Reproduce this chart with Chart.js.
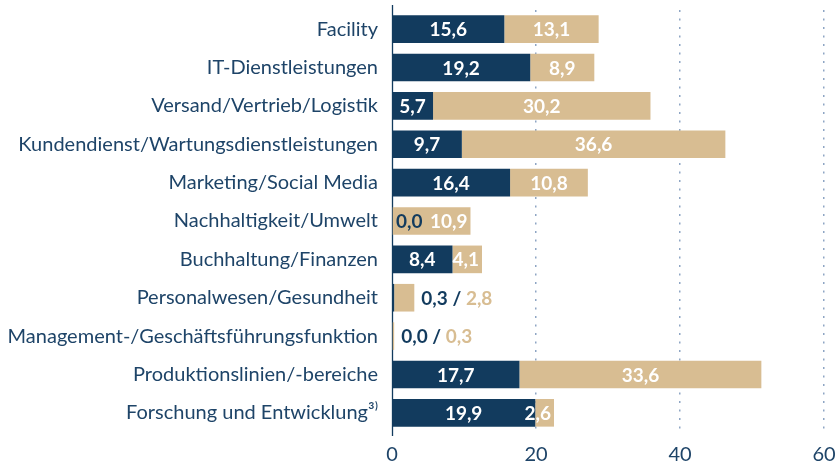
<!DOCTYPE html>
<html><head><meta charset="utf-8">
<script src="https://cdn.jsdelivr.net/npm/chart.js@4/dist/chart.umd.min.js"></script>
<style>html,body{margin:0;padding:0;background:#fff}#wrap{width:837px;height:461px;position:relative}</style>
</head><body><div id="wrap"><canvas id="c"></canvas></div>
<script>
const categories = [
  'Facility',
  'IT-Dienstleistungen',
  'Versand/Vertrieb/Logistik',
  'Kundendienst/Wartungsdienstleistungen',
  'Marketing/Social Media',
  'Nachhaltigkeit/Umwelt',
  'Buchhaltung/Finanzen',
  'Personalwesen/Gesundheit',
  'Management-/Geschäftsführungsfunktion',
  'Produktionslinien/-bereiche',
  'Forschung und Entwicklung³⁾'
];
const seriesNavy = [15.6, 19.2, 5.7, 9.7, 16.4, 0.0, 8.4, 0.3, 0.0, 17.7, 19.9];
const seriesTan  = [13.1, 8.9, 30.2, 36.6, 10.8, 10.9, 4.1, 2.8, 0.3, 33.6, 2.6];
const xTicks = [0, 20, 40, 60];

const NAVY = '#123b5e';
const TAN = '#d8bd92';
const TEXT = '#1e4468';
const FONT = 'Lato';

const fmt = v => v.toFixed(1).replace('.', ',');

const axisLinePlugin = {
  id: 'axisLine',
  beforeDatasetsDraw(chart) {
    const ctx = chart.ctx;
    const x = Math.round(chart.scales.x.getPixelForValue(0)) + 0.5;
    const a = chart.chartArea;
    ctx.save();
    ctx.strokeStyle = NAVY;
    ctx.lineWidth = 1.3;
    ctx.beginPath();
    ctx.moveTo(x, a.top - 5);
    ctx.lineTo(x, a.bottom + 4);
    ctx.stroke();
    ctx.restore();
  }
};

const labelPlugin = {
  id: 'segLabels',
  afterDatasetsDraw(chart) {
    const ctx = chart.ctx;
    const m0 = chart.getDatasetMeta(0), m1 = chart.getDatasetMeta(1);
    const x0 = chart.scales.x.getPixelForValue(0);
    ctx.save();
    ctx.font = 'bold 19px ' + FONT;
    ctx.textBaseline = 'middle';
    ctx.textAlign = 'left';
    categories.forEach((c, i) => {
      const b0 = m0.data[i], b1 = m1.data[i];
      const y = b0.y + 1;
      const t0 = fmt(seriesNavy[i]), t1 = fmt(seriesTan[i]);
      const w0 = ctx.measureText(t0).width, w1 = ctx.measureText(t1).width;
      const navyFits = (b0.x - x0) >= w0 + 6;
      const tanFits = (b1.x - b1.base) >= w1 + 6;
      if (!navyFits && !tanFits) {
        let x = b1.x + 7;
        const sep = ' / ';
        ctx.fillStyle = NAVY; ctx.fillText(t0, x, y); x += w0;
        ctx.fillText(sep, x, y); x += ctx.measureText(sep).width;
        ctx.fillStyle = TAN; ctx.fillText(t1, x, y);
        return;
      }
      let end0;
      if (seriesNavy[i] === 0) {
        ctx.fillStyle = NAVY;
        ctx.fillText(t0, x0 + 4, y);
        end0 = x0 + 4 + w0;
      } else {
        const cx = (x0 + b0.x) / 2;
        ctx.fillStyle = '#ffffff';
        ctx.fillText(t0, cx - w0 / 2, y);
        end0 = cx + w0 / 2;
      }
      let c1 = (b1.base + b1.x) / 2;
      const minC = end0 + 8 + w1 / 2, maxC = b1.x - 3 - w1 / 2;
      if (c1 < minC) c1 = minC;
      if (c1 > maxC) c1 = maxC;
      ctx.fillStyle = '#ffffff';
      ctx.fillText(t1, c1 - w1 / 2, y);
    });
    ctx.restore();
  }
};

new Chart(document.getElementById('c'), {
  type: 'bar',
  data: {
    labels: categories,
    datasets: [
      { label: 'Reihe 1', data: seriesNavy, backgroundColor: NAVY, borderWidth: 0 },
      { label: 'Reihe 2', data: seriesTan, backgroundColor: TAN, borderWidth: 0 }
    ]
  },
  options: {
    indexAxis: 'y',
    responsive: true,
    maintainAspectRatio: false,
    animation: false,
    barPercentage: 0.8,
    categoryPercentage: 0.9,
    layout: { padding: { top: 10, right: 13, left: 0, bottom: 0 } },
    plugins: { legend: { display: false }, tooltip: { enabled: false } },
    scales: {
      x: {
        stacked: true,
        min: 0, max: 60,
        afterBuildTicks(s) { s.ticks = xTicks.map(v => ({ value: v })); },
        grid: {
          drawTicks: false,
          color: ctx => ctx.tick && ctx.tick.value === 0 ? 'rgba(0,0,0,0)' : '#8ea5c4',
          lineWidth: 1.5
        },
        border: { display: false, dash: [2, 6.5] },
        ticks: { color: TEXT, font: { family: FONT, size: 20 }, padding: 11 },
        afterFit(s) { s.height = 29; s.paddingLeft = 0; s.paddingRight = 0; }
      },
      y: {
        stacked: true,
        grid: { display: false, drawTicks: false },
        border: { display: false },
        ticks: { color: TEXT, font: { family: FONT, size: 20 }, padding: 14, autoSkip: false },
        afterFit(s) { s.width = 392; s.paddingTop = 0; s.paddingBottom = 0; }
      }
    }
  },
  plugins: [axisLinePlugin, labelPlugin]
});
</script>
</body></html>
